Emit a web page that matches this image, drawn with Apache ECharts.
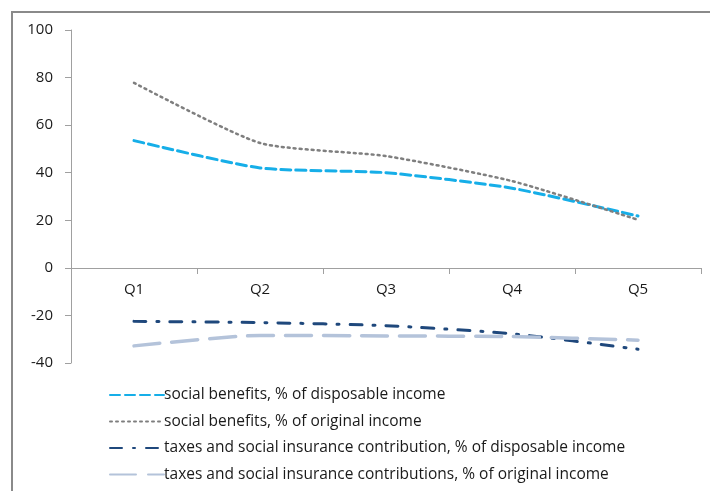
<!DOCTYPE html>
<html>
<head>
<meta charset="utf-8">
<script src="https://cdn.jsdelivr.net/npm/echarts@6/dist/echarts.min.js"></script>
<style>
  html, body { margin: 0; padding: 0; background: #fff; }
  #main { width: 710px; height: 491px; }
</style>
</head>
<body>
<div id="main"></div>
<script>
// quintiles
var categories = ['Q1', 'Q2', 'Q3', 'Q4', 'Q5'];

// values
var benefitsDisp = [53.5, 42, 40, 33.5, 21.8];
var benefitsOrig = [77.8, 52.5, 47, 36.5, 20.2];
var taxesDisp = [-22.5, -23, -24.3, -27.7, -34.2];
var taxesOrig = [-32.8, -28.4, -28.6, -28.9, -30.4];

var seriesNames = [
  'social benefits, % of disposable income',
  'social benefits, % of original income',
  'taxes and social insurance contribution, % of disposable income',
  'taxes and social insurance contributions, % of original income'
];

var myChart = echarts.init(document.getElementById('main'));

function lineSeries(name, data, color, width, dash) {
  return {
    name: name,
    type: 'line',
    data: data,
    smooth: 0.2,
    symbol: 'none',
    showSymbol: false,
    itemStyle: { color: color },
    lineStyle: { color: color, width: width, type: dash, cap: 'round' }
  };
}

var option = {
  animation: false,
  textStyle: { fontFamily: 'Open Sans' },
  graphic: [
    {
      type: 'rect',
      shape: { x: 12, y: 12, width: 720, height: 500 },
      style: { fill: 'none', stroke: '#8a8a8a', lineWidth: 2 },
      silent: true
    }
  ],
  grid: {
    left: 71,
    right: 9,
    top: 30,
    bottom: 128
  },
  legend: {
    orient: 'vertical',
    left: 104,
    top: 382,
    itemGap: 10.5,
    itemWidth: 54,
    itemHeight: 18,
    itemStyle: { opacity: 0 },
    textStyle: { fontSize: 15.5, color: '#1a1a1a', fontFamily: 'Open Sans', padding: [0, 0, 0, -5] },
    data: seriesNames
  },
  xAxis: {
    type: 'category',
    data: categories,
    boundaryGap: true,
    position: 'bottom',
    offset: -95,
    axisLine: { onZero: false, lineStyle: { color: '#a0a0a0', width: 1 } },
    axisTick: { show: true, length: 6, alignWithLabel: false, lineStyle: { color: '#a0a0a0' } },
    axisLabel: { color: '#1a1a1a', fontSize: 15, margin: 14 },
    splitLine: { show: false }
  },
  yAxis: {
    type: 'value',
    min: -40,
    max: 100,
    interval: 20,
    axisLine: { show: true, lineStyle: { color: '#a0a0a0', width: 1 } },
    axisTick: { show: true, length: 6, lineStyle: { color: '#a0a0a0' } },
    axisLabel: { color: '#1a1a1a', fontSize: 15, margin: 18 },
    splitLine: { show: false }
  },
  series: [
    lineSeries(seriesNames[0], benefitsDisp, '#16aee8', 3, [10, 5]),
    lineSeries(seriesNames[1], benefitsOrig, '#7f7f7f', 2.5, [2, 4]),
    lineSeries(seriesNames[2], taxesDisp, '#1f487c', 3, [12, 11, 2, 11]),
    lineSeries(seriesNames[3], taxesOrig, '#b4c3da', 3.5, [26, 12])
  ]
};

myChart.setOption(option);
</script>
</body>
</html>
